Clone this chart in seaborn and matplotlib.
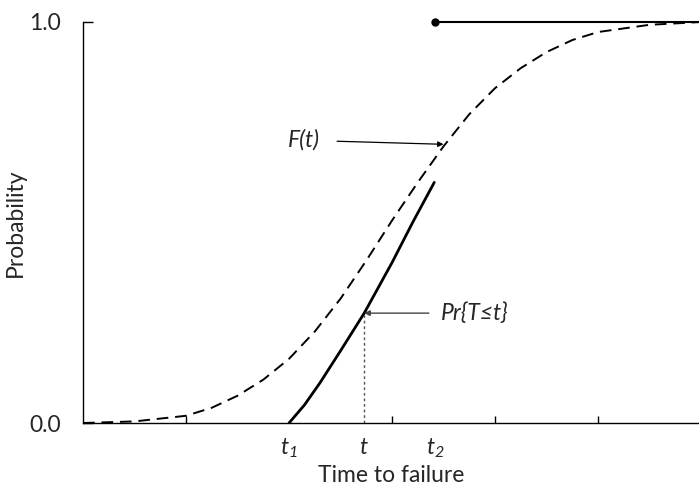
import matplotlib
matplotlib.use("Agg")
import matplotlib.pyplot as plt
import seaborn as sns
import pandas as pd

# ---------------------------------------------------------------------------
# values
cdf_t = [0, 0.5, 1.0, 1.25, 1.5, 1.75, 2.0, 2.25, 2.5, 2.75, 3.0, 3.25, 3.5,
         3.75, 4.0, 4.25, 4.5, 4.75, 5.0, 5.5, 6.0]
cdf_p = [0, 0.004, 0.018, 0.038, 0.068, 0.108, 0.16, 0.228, 0.31, 0.405, 0.505,
         0.60, 0.69, 0.77, 0.835, 0.885, 0.925, 0.955, 0.975, 0.993, 1.0]

seg_t = [2.0, 2.15, 2.3, 2.5, 2.73, 3.0, 3.2, 3.41]
seg_p = [0, 0.045, 0.10, 0.18, 0.274, 0.40, 0.50, 0.60]

t1, t_mid, t2 = 2.0, 2.73, 3.42
p_at_t = 0.274
x_ticks_minor = [1, 2, 3, 4, 5]

# ---------------------------------------------------------------------------
sns.set_style("white")
plt.rcParams['font.family'] = ['Lato', 'DejaVu Sans']
plt.rcParams['mathtext.fontset'] = 'custom'
plt.rcParams['mathtext.it'] = 'Lato:italic'
plt.rcParams['mathtext.rm'] = 'Lato:italic'

FS = 16.5

df_cdf = pd.DataFrame({'t': cdf_t, 'p': cdf_p})
df_seg = pd.DataFrame({'t': seg_t, 'p': seg_p})

fig = plt.figure(figsize=(6.99, 4.88), dpi=100)
ax = fig.add_axes([83/699, 65/488, 1 - 83/699, (423 - 22)/488])

sns.lineplot(x='t', y='p', data=df_cdf, ax=ax, color='black', lw=1.4,
             linestyle=(0, (6, 3.5)))
sns.lineplot(x='t', y='p', data=df_seg, ax=ax, color='black', lw=2)

# step to 1.0 after t2
ax.plot([t2, 6.0], [1.0, 1.0], color='black', lw=1.5, clip_on=False)
ax.plot([t2], [1.0], 'o', color='black', ms=5, clip_on=False)

# dotted guide at t
ax.plot([t_mid, t_mid], [0, p_at_t], color='#555555', lw=1, linestyle=(0, (2, 2)))

# annotations
ax.annotate("F(t)", xy=(3.5, 0.695), xytext=(2.30, 0.705),
            fontsize=FS, fontstyle='italic', ha='right', va='center',
            arrowprops=dict(arrowstyle='-|>', color='black', lw=0.9,
                            shrinkA=10, shrinkB=0, mutation_scale=8))
ax.annotate("Pr{T\u2264t}", xy=(t_mid, p_at_t), xytext=(3.47, p_at_t),
            fontsize=FS, fontstyle='italic', ha='left', va='center',
            arrowprops=dict(arrowstyle='-|>', color='#444444', lw=1,
                            shrinkA=6, shrinkB=0, mutation_scale=8))

ax.set_xlim(0, 5.98)
ax.set_ylim(0, 1.0)

ax.set_xticks([t1, t_mid, t2])
ax.set_xticklabels(["$t_1$", "$t$", "$t_2$"], fontsize=FS)
ax.set_xticks(x_ticks_minor, minor=True)
ax.tick_params(axis='x', which='major', bottom=True, length=0, pad=10)
ax.tick_params(axis='x', which='minor', bottom=True, direction='in',
               length=5, width=1, color='black')

ax.set_yticks([0.0, 1.0])
ax.set_yticklabels(["0.0", "1.0"], fontsize=FS)
ax.tick_params(axis='y', left=True, direction='in', length=7, width=1,
               color='black', pad=16)

ax.set_xlabel("Time to failure", fontsize=FS, labelpad=3)
ax.set_ylabel("Probability", fontsize=FS, labelpad=2)

sns.despine(ax=ax, top=True, right=True)
for s in ['left', 'bottom']:
    ax.spines[s].set_color('black')
    ax.spines[s].set_linewidth(1)

fig.savefig("out.png", dpi=100)
